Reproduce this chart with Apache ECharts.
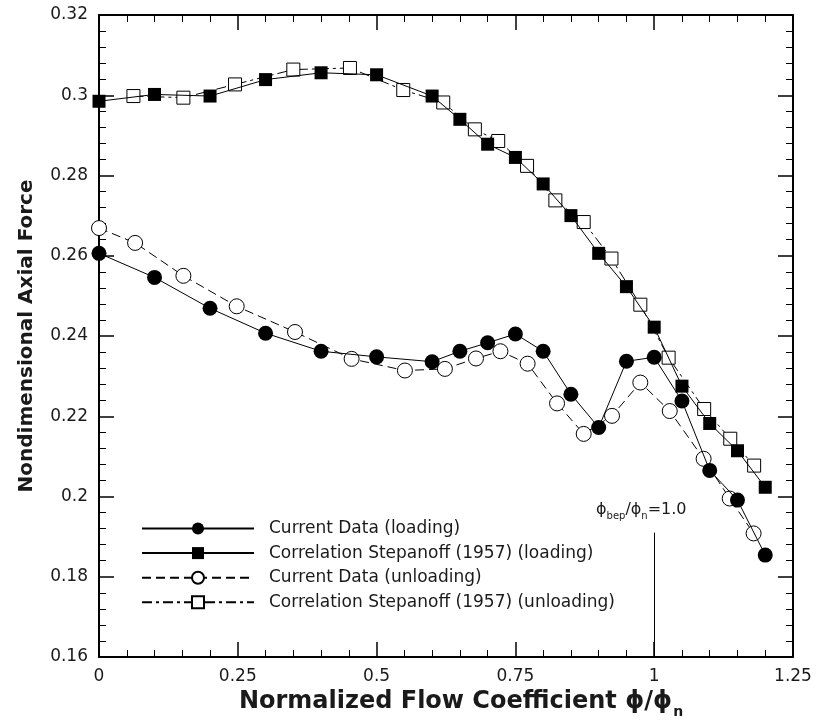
<!DOCTYPE html>
<html>
<head>
<meta charset="utf-8">
<script src="https://cdn.jsdelivr.net/npm/echarts@6/dist/echarts.min.js"></script>
<style>
html,body{margin:0;padding:0;background:#fff;}
#c{width:817px;height:724px;}
</style>
</head>
<body>
<div id="c"></div>
<script>
// Loading (current data & Stepanoff correlation share x positions)
const loadX = [0, 0.1, 0.2, 0.3, 0.4, 0.5, 0.6, 0.65, 0.7, 0.75, 0.8, 0.85, 0.9, 0.95, 1.0, 1.05, 1.1, 1.15, 1.2];
const currentLoading = [0.2606, 0.2546, 0.2469, 0.2407, 0.2362, 0.2348, 0.2336, 0.2362, 0.2383, 0.2405, 0.2362, 0.2255, 0.2172, 0.2337, 0.2347, 0.2238, 0.2065, 0.1991, 0.1854];
const stepanoffLoading = [0.2985, 0.3002, 0.2998, 0.3039, 0.3056, 0.3051, 0.2998, 0.2940, 0.2878, 0.2845, 0.2779, 0.2700, 0.2606, 0.2523, 0.2422, 0.2275, 0.2182, 0.2114, 0.2023];

// Unloading
const unloadX = [0, 0.065, 0.152, 0.248, 0.353, 0.455, 0.551, 0.623, 0.679, 0.723, 0.772, 0.825, 0.873, 0.924, 0.975, 1.028, 1.089, 1.136, 1.179];
const currentUnloading = [0.2669, 0.2632, 0.2550, 0.2474, 0.2410, 0.2343, 0.2314, 0.2318, 0.2344, 0.2362, 0.2331, 0.2232, 0.2156, 0.2201, 0.2284, 0.2213, 0.2094, 0.1995, 0.1908];
const stepUnloadX = [0.062, 0.152, 0.245, 0.350, 0.452, 0.548, 0.620, 0.677, 0.719, 0.771, 0.822, 0.873, 0.923, 0.975, 1.026, 1.090, 1.137, 1.180];
const stepanoffUnloading = [0.2998, 0.2994, 0.3027, 0.3064, 0.3068, 0.3013, 0.2982, 0.2915, 0.2886, 0.2824, 0.2738, 0.2684, 0.2593, 0.2478, 0.2346, 0.2218, 0.2144, 0.2077];

const xTicks = [0, 0.25, 0.5, 0.75, 1, 1.25];
const yTicks = [0.16, 0.18, 0.2, 0.22, 0.24, 0.26, 0.28, 0.3, 0.32];
const bepLine = [[1, 0.191], [1, 0.16]];
const seriesNames = ['Current Data (loading)', 'Correlation Stepanoff (1957) (loading)', 'Current Data (unloading)', 'Correlation Stepanoff (1957) (unloading)'];

function pairs(xs, ys) { return xs.map((x, i) => [x, ys[i]]); }

const FONT = '"DejaVu Sans", "Liberation Sans", Arial, sans-serif';
const TXT = '#1a1a1a';

const chart = echarts.init(document.getElementById('c'), null, { renderer: 'canvas' });

const axisCommon = {
  axisLine: { show: true, onZero: false, lineStyle: { color: '#000', width: 2 } },
  axisTick: { show: true, inside: true, length: 15, lineStyle: { color: '#000', width: 1.5 } },
  minorTick: { show: true, splitNumber: 5, length: 7, lineStyle: { color: '#000', width: 1 } },
  splitLine: { show: false },
  minorSplitLine: { show: false }
};

chart.setOption({
  animation: false,
  backgroundColor: '#fff',
  grid: { left: 99, right: 24, top: 15, bottom: 63, containLabel: false },
  xAxis: [
    Object.assign({
      type: 'value', position: 'bottom',
      min: xTicks[0], max: xTicks[xTicks.length - 1], interval: 0.25,
      axisLabel: { show: true, margin: 11, fontSize: 17, fontFamily: FONT, color: TXT },
      name: '{m|Normalized Flow Coefficient ϕ/ϕ}{s|n}',
      nameLocation: 'middle', nameGap: 33,
      nameTextStyle: {
        padding: [0, 0, 0, 30],
        rich: {
          m: { fontSize: 24, fontWeight: 'bold', fontFamily: FONT, color: TXT, lineHeight: 26, verticalAlign: 'top' },
          s: { fontSize: 14, fontWeight: 'bold', fontFamily: FONT, color: TXT, lineHeight: 14, verticalAlign: 'top', padding: [15, 0, 0, 1] }
        }
      }
    }, axisCommon),
    Object.assign({
      type: 'value', position: 'top',
      min: xTicks[0], max: xTicks[xTicks.length - 1], interval: 0.25,
      axisLabel: { show: false }
    }, axisCommon)
  ],
  yAxis: [
    Object.assign({
      type: 'value', position: 'left',
      min: yTicks[0], max: yTicks[yTicks.length - 1], interval: 0.02,
      axisLabel: { show: true, margin: 11, fontSize: 17, fontFamily: FONT, color: TXT },
      name: 'Nondimensional Axial Force',
      nameLocation: 'middle', nameGap: 62, nameRotate: 90,
      nameTextStyle: { fontSize: 20, fontWeight: 'bold', fontFamily: FONT, color: TXT }
    }, axisCommon),
    Object.assign({
      type: 'value', position: 'right',
      min: yTicks[0], max: yTicks[yTicks.length - 1], interval: 0.02,
      axisLabel: { show: false }
    }, axisCommon)
  ],
  legend: {
    orient: 'vertical',
    left: 136, top: 515,
    itemWidth: 112, itemHeight: 15, itemGap: 7.6,
    data: seriesNames,
    textStyle: { fontSize: 17, lineHeight: 15, fontFamily: FONT, color: TXT, padding: [0, 0, 0, 10] },
    selectedMode: false
  },
  series: [
    {
      name: seriesNames[3], type: 'line', data: pairs(stepUnloadX, stepanoffUnloading),
      symbol: 'rect', symbolSize: 13,
      itemStyle: { color: '#fff', borderColor: '#000', borderWidth: 1 },
      lineStyle: { color: '#000', width: 1, type: [10, 4, 3, 4] }, z: 2
    },
    {
      name: seriesNames[2], type: 'line', data: pairs(unloadX, currentUnloading),
      symbol: 'circle', symbolSize: 15,
      itemStyle: { color: '#fff', borderColor: '#000', borderWidth: 1 },
      lineStyle: { color: '#000', width: 1, type: [9, 5] }, z: 2
    },
    {
      name: seriesNames[1], type: 'line', data: pairs(loadX, stepanoffLoading),
      symbol: 'rect', symbolSize: 13,
      itemStyle: { color: '#000', borderColor: '#000', borderWidth: 0 },
      lineStyle: { color: '#000', width: 1, type: 'solid' }, z: 3
    },
    {
      name: seriesNames[0], type: 'line', data: pairs(loadX, currentLoading),
      symbol: 'circle', symbolSize: 15,
      itemStyle: { color: '#000', borderColor: '#000', borderWidth: 0 },
      lineStyle: { color: '#000', width: 1, type: 'solid' }, z: 3,
      markLine: {
        silent: true, symbol: 'none', label: { show: false },
        lineStyle: { color: '#000', width: 1, type: 'solid' },
        data: [[{ coord: bepLine[0] }, { coord: bepLine[1] }]]
      }
    }
  ],
  graphic: [
    {
      type: 'text', left: 596, top: 502, silent: true,
      style: {
        text: '{n|ϕ}{s|bep}{n|/ϕ}{s|n}{n|=1.0}',
        rich: {
          n: { fontSize: 16, fontFamily: FONT, fill: TXT, lineHeight: 18, verticalAlign: 'top' },
          s: { fontSize: 10, fontFamily: FONT, fill: TXT, lineHeight: 10, verticalAlign: 'top', padding: [9, 0, 0, 0] }
        }
      }
    }
  ]
});
</script>
</body>
</html>
